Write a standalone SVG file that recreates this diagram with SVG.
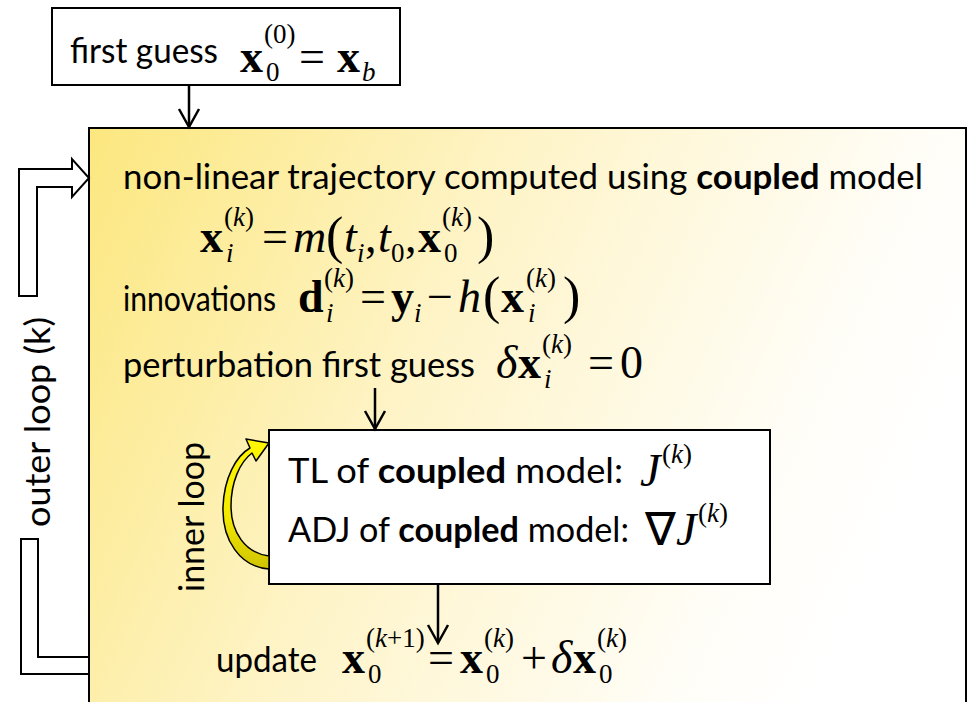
<svg xmlns="http://www.w3.org/2000/svg" width="967" height="702" viewBox="0 0 967 702">
  <defs>
    <style>
      .tx { font-family: Lato, "Open Sans", "Liberation Sans", sans-serif; font-size: 35px; fill: #000; }
      .bd { font-weight: bold; }
      .m { font-family: "Liberation Serif", Tinos, "Times New Roman", serif; font-size: 46px; fill: #000; }
      .s { font-size: 27px; }
      .b { font-weight: bold; }
      .it { font-style: italic; }
      .big { font-size: 52px; }
      .box { fill: #fff; stroke: #000; stroke-width: 2; }
      .conn { fill: none; stroke: #000; stroke-width: 2.5; }
      .block { fill: #fff; stroke: #000; stroke-width: 2; stroke-linejoin: miter; }
    </style>
    <linearGradient id="paper" gradientUnits="userSpaceOnUse" x1="89" y1="128" x2="900" y2="500">
      <stop offset="0" stop-color="#FCE77F"/>
      <stop offset="0.45" stop-color="#FEF4C8"/>
      <stop offset="0.85" stop-color="#FFFDF6"/>
      <stop offset="1" stop-color="#FFFFFF"/>
    </linearGradient>
    <linearGradient id="loopFill" gradientUnits="userSpaceOnUse" x1="0" y1="440" x2="0" y2="570">
      <stop offset="0" stop-color="#FFF800"/>
      <stop offset="0.6" stop-color="#F2E800"/>
      <stop offset="1" stop-color="#CFC300"/>
    </linearGradient>
    <marker id="vhead" viewBox="0 0 24 24" markerWidth="24" markerHeight="24" refX="20" refY="12" orient="auto" markerUnits="userSpaceOnUse">
      <path d="M2,2 L20,12 L2,22" fill="none" stroke="#000" stroke-width="2.5"/>
    </marker>
  </defs>

  <rect width="967" height="702" fill="#fff"/>

  <!-- outer iteration: main panel -->
  <g id="outer-panel">
    <rect x="89" y="128" width="877" height="620" fill="url(#paper)" stroke="#000" stroke-width="2"/>
    <text class="tx" x="123" y="189" textLength="800" lengthAdjust="spacingAndGlyphs">non-linear trajectory computed using <tspan class="bd">coupled</tspan> model</text>
    <text class="m">
      <tspan x="200" y="252" class="b">x</tspan>
      <tspan x="224" y="226" class="s">(<tspan class="it">k</tspan>)</tspan>
      <tspan x="226" y="262" class="s it">i</tspan>
      <tspan x="262" y="252">=</tspan>
      <tspan x="293" y="252" class="it">m</tspan>
      <tspan x="326" y="253" class="big">(</tspan>
      <tspan x="344" y="252" class="it">t</tspan>
      <tspan x="357" y="262" class="s it">i</tspan>
      <tspan x="365" y="252">,</tspan>
      <tspan x="378" y="252" class="it">t</tspan>
      <tspan x="391" y="262" class="s">0</tspan>
      <tspan x="405" y="252">,</tspan>
      <tspan x="418" y="252" class="b">x</tspan>
      <tspan x="442" y="226" class="s">(<tspan class="it">k</tspan>)</tspan>
      <tspan x="444" y="262" class="s">0</tspan>
      <tspan x="477" y="253" class="big">)</tspan>
    </text>

    <text class="tx" x="123" y="311" textLength="153" lengthAdjust="spacingAndGlyphs">innovations</text>
    <text class="m">
      <tspan x="298" y="312" class="b">d</tspan>
      <tspan x="324" y="287" class="s">(<tspan class="it">k</tspan>)</tspan>
      <tspan x="326" y="322" class="s it">i</tspan>
      <tspan x="360" y="312">=</tspan>
      <tspan x="391" y="312" class="b">y</tspan>
      <tspan x="414" y="322" class="s it">i</tspan>
      <tspan x="427" y="312">−</tspan>
      <tspan x="458" y="312" class="it">h</tspan>
      <tspan x="483" y="313" class="big">(</tspan>
      <tspan x="501" y="312" class="b">x</tspan>
      <tspan x="526" y="287" class="s">(<tspan class="it">k</tspan>)</tspan>
      <tspan x="528" y="322" class="s it">i</tspan>
      <tspan x="563" y="313" class="big">)</tspan>
    </text>

    <text class="tx" x="123" y="377" textLength="352" lengthAdjust="spacingAndGlyphs">perturbation first guess</text>
    <text class="m">
      <tspan x="496" y="378" class="it">δ</tspan>
      <tspan x="518" y="378" class="b">x</tspan>
      <tspan x="542" y="353" class="s">(<tspan class="it">k</tspan>)</tspan>
      <tspan x="544" y="388" class="s it">i</tspan>
      <tspan x="588" y="378">=</tspan>
      <tspan x="620" y="378">0</tspan>
    </text>

    <text class="tx" x="216" y="672" textLength="101" lengthAdjust="spacingAndGlyphs">update</text>
    <text class="m">
      <tspan x="342" y="673" class="b">x</tspan>
      <tspan x="366" y="647" class="s">(<tspan class="it">k</tspan>+1)</tspan>
      <tspan x="368" y="683" class="s">0</tspan>
      <tspan x="428" y="673">=</tspan>
      <tspan x="460" y="673" class="b">x</tspan>
      <tspan x="484" y="647" class="s">(<tspan class="it">k</tspan>)</tspan>
      <tspan x="486" y="683" class="s">0</tspan>
      <tspan x="521" y="673">+</tspan>
      <tspan x="551" y="673" class="it">δ</tspan>
      <tspan x="573" y="673" class="b">x</tspan>
      <tspan x="597" y="647" class="s">(<tspan class="it">k</tspan>)</tspan>
      <tspan x="599" y="683" class="s">0</tspan>
    </text>
  </g>

  <!-- initial state -->
  <g id="first-guess">
    <rect class="box" x="52" y="8" width="348" height="77"/>
    <text class="tx" x="70" y="63" textLength="148" lengthAdjust="spacingAndGlyphs">first guess</text>
    <text class="m">
      <tspan x="240" y="72" class="b">x</tspan>
      <tspan x="264" y="43" class="s">(0)</tspan>
      <tspan x="266" y="81" class="s">0</tspan>
      <tspan x="299" y="72">=</tspan>
      <tspan x="337" y="72" class="b">x</tspan>
      <tspan x="362" y="81" class="s it">b</tspan>
    </text>
  </g>

  <!-- inner minimisation -->
  <g id="inner-loop">
    <rect class="box" x="269" y="430" width="501" height="154"/>
    <text class="tx" x="288" y="483" textLength="335" lengthAdjust="spacingAndGlyphs">TL of <tspan class="bd">coupled</tspan> model:</text>
    <text class="m">
      <tspan x="640" y="486" class="it">J</tspan>
      <tspan x="662" y="463" class="s">(<tspan class="it">k</tspan>)</tspan>
    </text>
    <text class="tx" x="288" y="542" textLength="341" lengthAdjust="spacingAndGlyphs">ADJ of <tspan class="bd">coupled</tspan> model:</text>
    <text class="m">
      <tspan x="645" y="545">∇</tspan>
      <tspan x="676" y="545" class="it">J</tspan>
      <tspan x="698" y="522" class="s">(<tspan class="it">k</tspan>)</tspan>
    </text>
  </g>

  <!-- loop labels -->
  <g id="labels">
    <text class="tx" transform="translate(50,527) rotate(-90)" textLength="210" lengthAdjust="spacingAndGlyphs">outer loop (k)</text>
    <text class="tx" transform="translate(204,592) rotate(-90)" textLength="150" lengthAdjust="spacingAndGlyphs">inner loop</text>
  </g>

  <g id="connectors">
    <line class="conn" x1="189" y1="85" x2="189" y2="127" marker-end="url(#vhead)"/>
    <line class="conn" x1="375" y1="388" x2="375" y2="429" marker-end="url(#vhead)"/>
    <line class="conn" x1="438" y1="584" x2="438" y2="643" marker-end="url(#vhead)"/>
    <!-- outer loop return: block arrow in two pieces -->
    <path class="block" d="M19,296 L19,169 L72,169 L72,159 L89,178 L72,197 L72,187 L37,187 L37,296 Z"/>
    <path class="block" d="M21,539 L38,539 L38,657 L89,657 L89,674 L21,674 Z"/>
    <!-- inner loop: curved yellow arrow -->
    <path d="M269,569 C240,567 222,540 223,507 C224,478 236,456 250,448 L246,439 L269,443 L256,461 L252,453 C240,462 231,482 231,506 C231,532 245,553 269,556 Z" fill="url(#loopFill)" stroke="#000" stroke-width="1.5" stroke-linejoin="round"/>
  </g>
</svg>
